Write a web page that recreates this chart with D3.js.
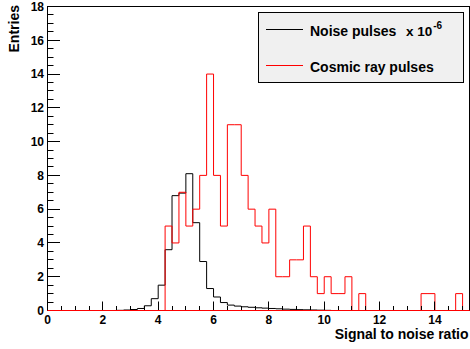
<!DOCTYPE html>
<html>
<head>
<meta charset="utf-8">
<script src="https://cdn.jsdelivr.net/npm/d3@7/dist/d3.min.js"></script>
<style>
  html, body { margin: 0; padding: 0; background: #ffffff; }
  svg { display: block; }
  text { font-family: "Liberation Sans", Arial, Helvetica, sans-serif; font-weight: bold; fill: #000; }
</style>
</head>
<body>
<svg id="chart" width="470" height="349"></svg>
<script>
// Histogram binning: 61 bins of width 0.25 starting at 0
const binStart = 0;
const binWidth = 0.25;

// Noise pulse counts per bin (scaled by 10^-6)
const noiseCounts = [
  0, 0, 0, 0, 0, 0, 0, 0, 0, 0,
  0.01, 0.03, 0.06, 0.12, 0.28, 0.7, 1.5, 3.6, 6.8, 6.95,
  8.1, 5.2, 2.9, 1.3, 0.8, 0.47, 0.32, 0.26, 0.22, 0.19,
  0.16, 0.14, 0.12, 0.1, 0.08, 0.065, 0.05, 0.04, 0.03, 0.02,
  0.01, 0, 0, 0, 0, 0, 0, 0, 0, 0,
  0, 0, 0, 0, 0, 0, 0, 0, 0, 0,
  0
];

// Cosmic ray pulse counts per bin
const cosmicCounts = [
  0, 0, 0, 0, 0, 0, 0, 0, 0, 0,
  0, 0, 0, 0, 0, 0, 0, 5, 4, 7,
  5, 6, 8, 14, 8, 5, 11, 11, 8, 6,
  5, 4, 6, 2, 2, 3, 3, 5, 2, 1,
  2, 1, 1, 2, 0, 1, 0, 0, 0, 0,
  0, 0, 0, 0, 1, 1, 0, 0, 0, 1,
  0
];

// Axis ranges and tick values
const xDomain = [0, 15.25];
const yDomain = [0, 18];
const xMajorTicks = [0, 2, 4, 6, 8, 10, 12, 14];
const xMinorTicks = [0.5, 1, 1.5, 2.5, 3, 3.5, 4.5, 5, 5.5, 6.5, 7, 7.5, 8.5, 9, 9.5, 10.5, 11, 11.5, 12.5, 13, 13.5, 14.5, 15];
const yMajorTicks = [0, 2, 4, 6, 8, 10, 12, 14, 16, 18];
const yMinorTicks = [0.5, 1, 1.5, 2.5, 3, 3.5, 4.5, 5, 5.5, 6.5, 7, 7.5, 8.5, 9, 9.5, 10.5, 11, 11.5, 12.5, 13, 13.5, 14.5, 15, 15.5, 16.5, 17, 17.5];

const xTitle = "Signal to noise ratio";
const yTitle = "Entries";
const legendNames = ["Noise pulses", "Cosmic ray pulses"];
const legendScale = { base: "x 10", exponent: "-6" };
const seriesColors = ["#000000", "#ff0000"];

// Frame geometry
const frameLeft = 47.5, frameRight = 469.5, frameTop = 6.5, frameBottom = 310.5;

const svg = d3.select("#chart");

const x = d3.scaleLinear().domain(xDomain).range([frameLeft, frameRight]);
const y = d3.scaleLinear().domain(yDomain).range([frameBottom, frameTop]);

// Step outline of a histogram
function stepPoints(counts) {
  const pts = [];
  counts.forEach((v, i) => {
    const x0 = binStart + i * binWidth;
    const x1 = x0 + binWidth;
    pts.push([x0, v]);
    pts.push([x1, v]);
  });
  return pts;
}

const line = d3.line()
  .x(d => x(d[0]))
  .y(d => y(d[1]));

// Plot frame
svg.append("rect")
  .attr("x", frameLeft).attr("y", frameTop)
  .attr("width", frameRight - frameLeft).attr("height", frameBottom - frameTop)
  .attr("fill", "#ffffff")
  .attr("stroke", "#000").attr("stroke-width", 1);

// Histograms: noise first, cosmic rays on top
[noiseCounts, cosmicCounts].forEach((counts, k) => {
  svg.append("path")
    .attr("d", line(stepPoints(counts)))
    .attr("fill", "none")
    .attr("stroke", seriesColors[k])
    .attr("stroke-width", 1);
});

// X axis ticks (pointing up into the frame)
const xMajorLen = 9, xMinorLen = 4.5;
const xAxis = svg.append("g").attr("class", "x-axis");
xAxis.selectAll("line.major").data(xMajorTicks).join("line")
  .attr("class", "major")
  .attr("x1", d => Math.round(x(d) - 0.5) + 0.5).attr("x2", d => Math.round(x(d) - 0.5) + 0.5)
  .attr("y1", frameBottom).attr("y2", frameBottom - xMajorLen)
  .attr("stroke", "#000");
xAxis.selectAll("line.minor").data(xMinorTicks).join("line")
  .attr("class", "minor")
  .attr("x1", d => Math.round(x(d) - 0.5) + 0.5).attr("x2", d => Math.round(x(d) - 0.5) + 0.5)
  .attr("y1", frameBottom).attr("y2", frameBottom - xMinorLen)
  .attr("stroke", "#000");
xAxis.selectAll("text").data(xMajorTicks).join("text")
  .attr("x", d => x(d))
  .attr("y", 324)
  .attr("text-anchor", "middle")
  .attr("font-size", 12)
  .text(d => d);

// Y axis ticks (pointing right into the frame)
const yMajorLen = 12.5, yMinorLen = 6;
const yAxis = svg.append("g").attr("class", "y-axis");
yAxis.selectAll("line.major").data(yMajorTicks).join("line")
  .attr("class", "major")
  .attr("x1", frameLeft).attr("x2", frameLeft + yMajorLen)
  .attr("y1", d => Math.round(y(d) - 0.5) + 0.5).attr("y2", d => Math.round(y(d) - 0.5) + 0.5)
  .attr("stroke", "#000");
yAxis.selectAll("line.minor").data(yMinorTicks).join("line")
  .attr("class", "minor")
  .attr("x1", frameLeft).attr("x2", frameLeft + yMinorLen)
  .attr("y1", d => Math.round(y(d) - 0.5) + 0.5).attr("y2", d => Math.round(y(d) - 0.5) + 0.5)
  .attr("stroke", "#000");
yAxis.selectAll("text").data(yMajorTicks).join("text")
  .attr("x", 44)
  .attr("y", d => y(d) + 4.3)
  .attr("text-anchor", "end")
  .attr("font-size", 12)
  .text(d => d);

// Cosmic baseline drawn over the axis line
svg.append("path")
  .attr("d", line([[xDomain[0], 0], [xDomain[1], 0]]))
  .attr("stroke", seriesColors[1])
  .attr("stroke-width", 1)
  .attr("fill", "none");

// Axis titles
svg.append("text")
  .attr("x", frameRight - 1)
  .attr("y", 339)
  .attr("text-anchor", "end")
  .attr("font-size", 14)
  .text(xTitle);

svg.append("text")
  .attr("transform", "translate(19,5) rotate(-90)")
  .attr("text-anchor", "end")
  .attr("font-size", 14)
  .text(yTitle);

// Legend
const legend = svg.append("g").attr("class", "legend");
legend.append("rect")
  .attr("x", 258.5).attr("y", 12.5)
  .attr("width", 205).attr("height", 70)
  .attr("fill", "#f0f0f0")
  .attr("stroke", "#000").attr("stroke-width", 1);

const legendRows = [29.5, 65.5];
legendNames.forEach((name, k) => {
  legend.append("line")
    .attr("x1", 266).attr("x2", 303)
    .attr("y1", legendRows[k]).attr("y2", legendRows[k])
    .attr("stroke", seriesColors[k]).attr("stroke-width", 1);
  legend.append("text")
    .attr("x", 310)
    .attr("y", legendRows[k] + 6.5)
    .attr("font-size", 14)
    .text(name);
});

// Scale factor with superscript exponent, as one text element
const scaleText = legend.append("text")
  .attr("x", 406)
  .attr("y", legendRows[0] + 6.5)
  .attr("font-size", 13.5);
scaleText.append("tspan").text(legendScale.base);
scaleText.append("tspan")
  .attr("dx", 1)
  .attr("dy", -7)
  .attr("font-size", 10)
  .text(legendScale.exponent);
</script>
</body>
</html>
